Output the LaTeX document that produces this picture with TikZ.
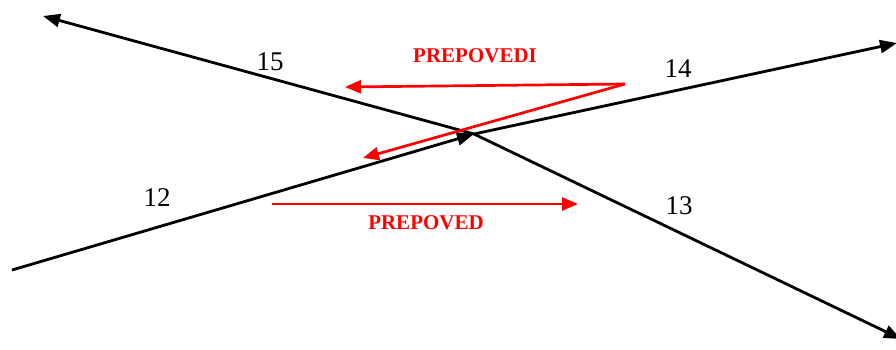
\documentclass[tikz,border=0pt]{standalone}
\usepackage{fontspec}
\setmainfont{Liberation Serif}
\usetikzlibrary{arrows.meta}
\begin{document}
\begin{tikzpicture}[x=1pt,y=-1pt,
  road/.style={line width=2.8pt,black},
  roadarrow/.style={road,-{Triangle[length=17pt,width=13pt]}},
  ban/.style={line width=2.7pt,red,-{Triangle[length=16pt,width=13pt]}},
  num/.style={font=\fontsize{27}{30}\selectfont},
  bantext/.style={font=\bfseries\fontsize{21}{24}\selectfont,text=red}]
\useasboundingbox (0,0) rectangle (896,349);
\coordinate (c) at (474,134);
\coordinate (w) at (12,270);
\coordinate (ne) at (897,43);
\coordinate (nw) at (43,16);
\coordinate (se) at (901,339);
\draw[roadarrow] (w) -- (c);
\draw[roadarrow] (c) -- (ne);
\draw[roadarrow] (c) -- (nw);
\draw[roadarrow] (c) -- (se);
\coordinate (r) at (625,84);
\coordinate (rl) at (345,87);
\coordinate (rd) at (363,158);
\draw[ban] (r) -- (rl);
\draw[ban] (r) -- (rd);
\coordinate (s) at (272,204);
\coordinate (e) at (578,204);
\draw[ban] (s) -- (e);
\node[num] (n15) at (270,62) {15};
\node[num] (n14) at (678,69) {14};
\node[num] (n12) at (157,198) {12};
\node[num] (n13) at (679,206) {13};
\node[bantext] (t1) at (475,56) {PREPOVEDI};
\node[bantext] (t2) at (426,223) {PREPOVED};
\end{tikzpicture}
\end{document}
